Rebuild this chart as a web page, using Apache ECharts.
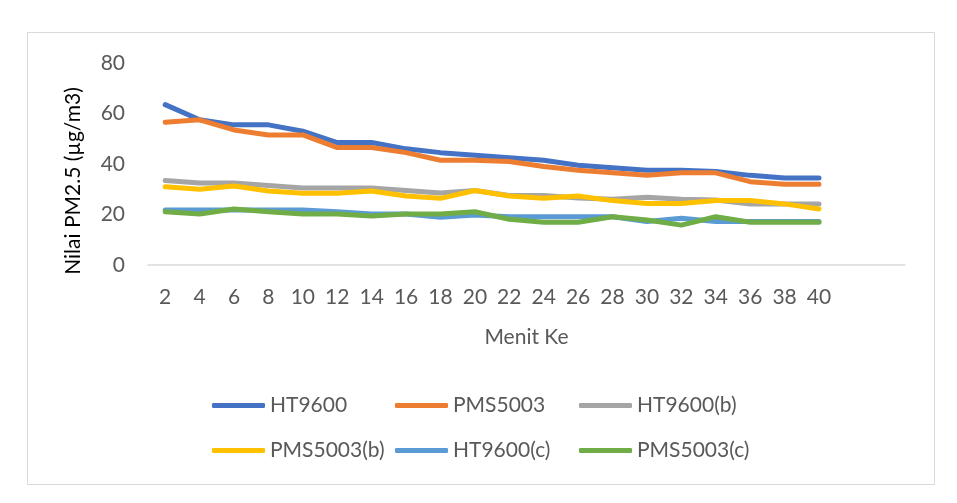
<!DOCTYPE html>
<html>
<head>
<meta charset="utf-8">
<script src="https://cdn.jsdelivr.net/npm/echarts@6/dist/echarts.min.js"></script>
<style>
  html, body { margin: 0; padding: 0; background: #fff; }
  #main { width: 957px; height: 503px; }
</style>
</head>
<body>
<div id="main"></div>
<script>
// minutes (two empty slots at the end, like the source chart)
var minutes = ['2', '4', '6', '8', '10', '12', '14', '16', '18', '20', '22', '24', '26', '28', '30', '32', '34', '36', '38', '40', '', '']
var yTicks = [0, 20, 40, 60, 80]

var ht9600 = [63.5, 57.5, 55.5, 55.5, 53, 48.5, 48.5, 46, 44.5, 43.5, 42.5, 41.5, 39.5, 38.5, 37.5, 37.5, 37, 35.5, 34.5, 34.5]
var pms5003 = [56.5, 57.5, 53.5, 51.5, 51.5, 46.5, 46.5, 44.5, 41.5, 41.5, 41, 39, 37.5, 36.5, 35.5, 36.5, 36.5, 33, 32, 32]
var ht9600b = [33.5, 32.5, 32.5, 31.5, 30.5, 30.5, 30.5, 29.5, 28.5, 29.5, 27.5, 27.5, 26.5, 26, 26.8, 26, 25.7, 24.2, 24.2, 24.2]
var pms5003b = [31, 30, 31.3, 29.3, 28.4, 28.4, 29.3, 27.3, 26.4, 29.5, 27.3, 26.4, 27.3, 25.5, 24.4, 24.4, 25.5, 25.5, 24.2, 22.2]
var ht9600c = [21.8, 21.8, 21.8, 21.8, 21.8, 21.1, 20.2, 20.2, 18.9, 19.8, 19.1, 19.1, 19.1, 19.1, 17.2, 18.5, 17.2, 17.2, 17.2, 17.2]
var pms5003c = [21.1, 20.2, 22.2, 21.1, 20.2, 20.2, 19.4, 20.2, 20.2, 21.1, 18.1, 16.9, 16.9, 19.1, 17.8, 15.8, 19.1, 16.9, 16.9, 16.9]

var names = ['HT9600', 'PMS5003', 'HT9600(b)', 'PMS5003(b)', 'HT9600(c)', 'PMS5003(c)']
var colors = ['#4472C4', '#ED7D31', '#A5A5A5', '#FFC000', '#5B9BD5', '#70AD47']
var values = [ht9600, pms5003, ht9600b, pms5003b, ht9600c, pms5003c]

var font = 'Lato, "Open Sans", sans-serif'
var textColor = '#595959'

var chart = echarts.init(document.getElementById('main'))

// legend: 3 columns, 2 rows
var legendLeft = [212, 395, 579]
var legendTop = [395, 440]
var legends = names.map(function (n, i) {
  return {
    data: [n],
    left: legendLeft[i % 3],
    top: legendTop[Math.floor(i / 3)],
    icon: 'roundRect',
    itemWidth: 53,
    itemHeight: 5,
    padding: 0,
    textStyle: { fontFamily: font, fontSize: 21, color: textColor }
  }
})

var series = names.map(function (n, i) {
  return {
    name: n,
    type: 'line',
    data: values[i],
    symbol: 'none',
    color: colors[i],
    lineStyle: { width: 5, color: colors[i], cap: 'round', join: 'round' },
    animation: false
  }
})

var option = {
  backgroundColor: '#fff',
  color: colors,
  grid: { left: 148, right: 52, top: 63, bottom: 238 },
  legend: legends,
  graphic: [{
    type: 'rect',
    shape: { x: 27.5, y: 32.5, width: 907, height: 452 },
    style: { fill: 'none', stroke: '#d9d9d9', lineWidth: 1 },
    silent: true,
    z: -1
  }],
  xAxis: {
    type: 'category',
    data: minutes,
    boundaryGap: true,
    name: 'Menit Ke',
    nameLocation: 'middle',
    nameGap: 62,
    nameTextStyle: { fontFamily: font, fontSize: 21, color: textColor },
    axisLine: { lineStyle: { color: '#d9d9d9', width: 1.5 } },
    axisTick: { show: false },
    axisLabel: { interval: 0, margin: 22, fontFamily: font, fontSize: 21, color: textColor }
  },
  yAxis: {
    type: 'value',
    min: yTicks[0],
    max: yTicks[yTicks.length - 1],
    interval: 20,
    name: 'Nilai PM2.5 (µg/m3)',
    nameLocation: 'middle',
    nameRotate: 90,
    nameGap: 64,
    nameTextStyle: { fontFamily: font, fontSize: 21, color: '#000', padding: [0, 34, 0, 0] },
    axisLine: { show: false },
    axisTick: { show: false },
    splitLine: { show: false },
    axisLabel: { margin: 23, fontFamily: font, fontSize: 21, color: textColor }
  },
  series: series
}

option && chart.setOption(option)
</script>
</body>
</html>
